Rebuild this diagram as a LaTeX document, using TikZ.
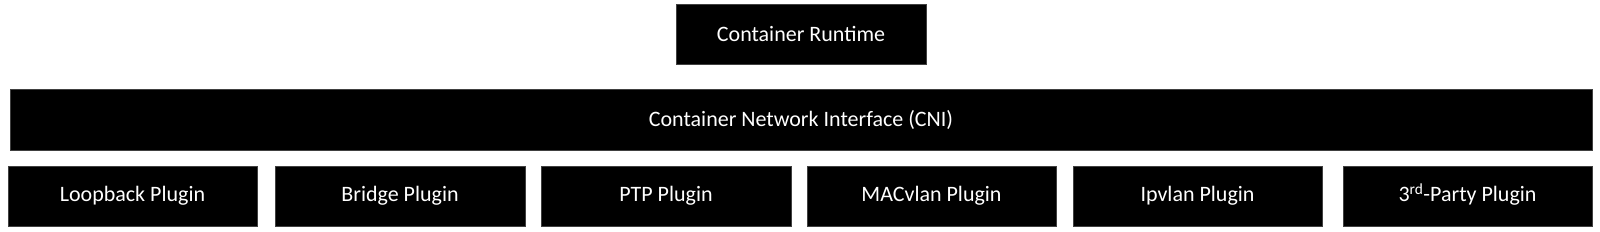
\documentclass[tikz,border=0pt]{standalone}
\usepackage{fontspec}
\setmainfont{Carlito}
\begin{document}
\begin{tikzpicture}[x=1pt,y=-1pt,
  blk/.style={fill=black,draw=black!75,line width=0.6pt,text=white,inner sep=0pt,outer sep=0pt,
    font=\fontsize{22}{24}\selectfont,anchor=center}]
\useasboundingbox (0,0) rectangle (1600,232);
\node[blk,minimum width=250pt,minimum height=60pt] (rt) at (801,34) {Container Runtime};
\node[blk,minimum width=1582pt,minimum height=61pt] (cni) at (801,119.5) {Container Network Interface (CNI)};
\node[blk,minimum width=249pt,minimum height=60pt] (lo) at (132.5,196) {Loopback Plugin};
\node[blk,minimum width=250pt,minimum height=60pt] (br) at (400,196) {Bridge Plugin};
\node[blk,minimum width=250pt,minimum height=60pt] (ptp) at (666,196) {PTP Plugin};
\node[blk,minimum width=249pt,minimum height=60pt] (mac) at (931.5,196) {MACvlan Plugin};
\node[blk,minimum width=249pt,minimum height=60pt] (ipv) at (1197.5,196) {Ipvlan Plugin};
\node[blk,minimum width=249pt,minimum height=60pt] (tp) at (1467.5,196) {3\smash{\textsuperscript{rd}}-Party Plugin};
\end{tikzpicture}
\end{document}
